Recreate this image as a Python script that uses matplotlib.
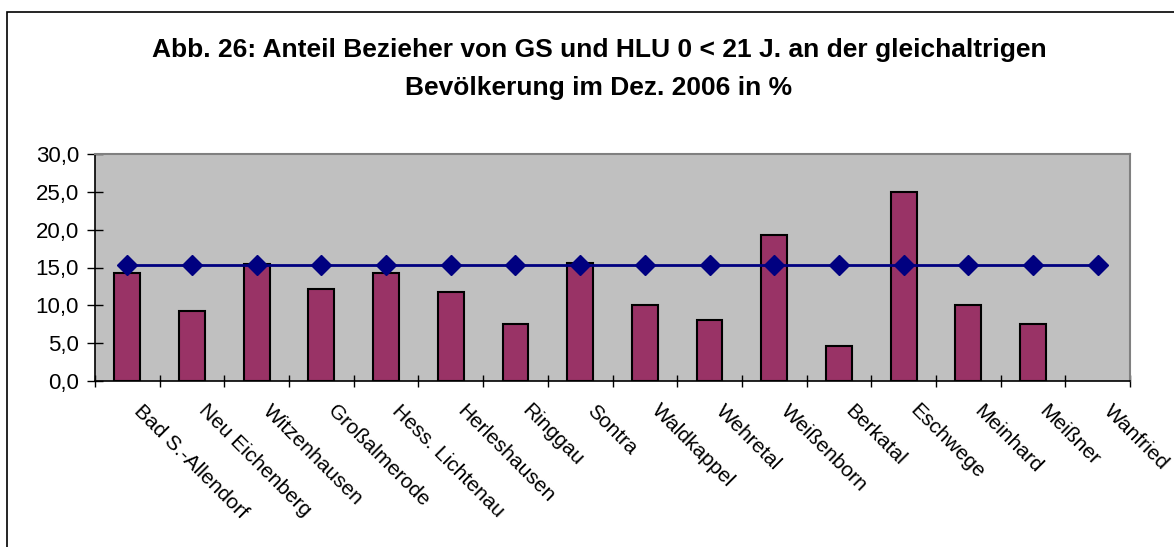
import numpy as np
import matplotlib.pyplot as plt
import matplotlib.transforms as mtransforms
from matplotlib.patches import Rectangle
from matplotlib.ticker import FuncFormatter

# data
gemeinden = ['Bad S.-Allendorf', 'Neu Eichenberg', 'Witzenhausen', 'Großalmerode',
             'Hess. Lichtenau', 'Herleshausen', 'Ringgau', 'Sontra', 'Waldkappel',
             'Wehretal', 'Weißenborn', 'Berkatal', 'Eschwege', 'Meinhard', 'Meißner',
             'Wanfried']
anteil = [14.3, 9.3, 15.4, 12.2, 14.3, 11.8, 7.5, 15.6, 10.0,
          8.0, 19.3, 4.6, 25.0, 10.0, 7.5, np.nan]
kreis = [15.3, 15.3, 15.3, 15.3, 15.3, 15.3, 15.3, 15.3, 15.3,
         15.3, 15.3, 15.3, 15.3, 15.3, 15.3, 15.3]
yticks = [0, 5, 10, 15, 20, 25, 30]
title_1 = 'Abb. 26: Anteil Bezieher von GS und HLU 0 < 21 J. an der gleichaltrigen'
title_2 = 'Bevölkerung im Dez. 2006 in %'

plt.rcParams['font.family'] = ['Liberation Sans', 'DejaVu Sans']

W, H = 1174, 547
fig = plt.figure(figsize=(W / 100, H / 100), dpi=100)
ax = fig.add_axes([95 / W, 1 - 381 / H, (1130 - 95) / W, (381 - 154) / H])

x = np.arange(len(gemeinden))
ax.set_facecolor('#C0C0C0')
ax.bar(x, anteil, width=0.4, color='#993366', edgecolor='black', linewidth=1.5, zorder=2)
ax.plot(x, kreis, color='#000080', linewidth=2, marker='D', markersize=10, zorder=3)

ax.set_xlim(-0.5, len(gemeinden) - 0.5)
ax.set_ylim(0, 30)
ax.set_yticks(yticks)
ax.yaxis.set_major_formatter(FuncFormatter(lambda v, p: f'{v:.1f}'.replace('.', ',')))
ax.tick_params(axis='y', direction='inout', length=11, width=1, labelsize=16, pad=6)

ax.set_xticks(np.arange(len(gemeinden) + 1) - 0.5)
ax.set_xticklabels([])
ax.tick_params(axis='x', direction='inout', length=9, width=1)

for s in ['top', 'right']:
    ax.spines[s].set_color('#808080')
    ax.spines[s].set_linewidth(1.5)
for s in ['left', 'bottom']:
    ax.spines[s].set_color('black')
    ax.spines[s].set_linewidth(1.2)

# rotated category labels
offset = mtransforms.ScaledTranslation(16 / 100, -20 / 100, fig.dpi_scale_trans)
for xi, name in zip(x, gemeinden):
    ax.text(xi, 0, name, rotation=-45, rotation_mode='anchor', ha='left', va='top',
            fontsize=15, transform=ax.get_xaxis_transform() + offset)

fig.text(599 / W, 1 - 57 / H, title_1, ha='center', va='baseline',
         fontsize=19, fontweight='bold')
fig.text(599 / W, 1 - 95 / H, title_2, ha='center', va='baseline',
         fontsize=19, fontweight='bold')

fig.patches.append(Rectangle((7 / W, -0.1), 1.2, 1.1 - 12 / H, transform=fig.transFigure,
                             fill=False, edgecolor='black', linewidth=1.2))

fig.savefig('out.png', dpi=100)
